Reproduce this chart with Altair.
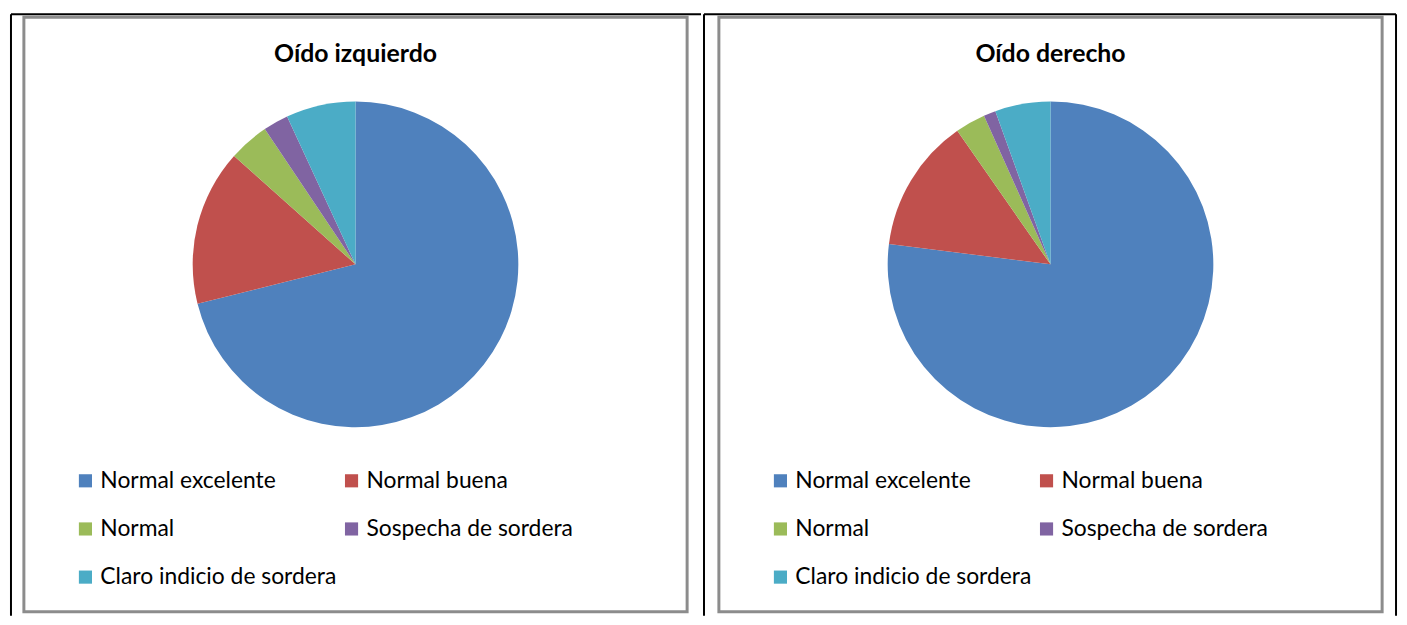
import altair as alt
import pandas as pd

categories = ["Normal excelente", "Normal buena", "Normal",
              "Sospecha de sordera", "Claro indicio de sordera"]
left_values = [71.1, 15.5, 4.0, 2.5, 6.9]
right_values = [77.0, 13.3, 3.0, 1.2, 5.5]
titles = ["Oído izquierdo", "Oído derecho"]
colors = ["#4F81BD", "#C0504D", "#9BBB59", "#8064A2", "#4BACC6"]

FONT = "Lato"
W, H = 668, 599


def panel(title, values, line_xs, top_x, top_x2):
    df = pd.DataFrame({
        "cat": categories,
        "val": values,
        "idx": list(range(len(categories))),
        "col": [i % 2 for i in range(len(categories))],
        "row": [i // 2 for i in range(len(categories))],
    })
    base = alt.Chart(df)
    color = alt.Color("cat:N", scale=alt.Scale(domain=categories, range=colors), legend=None)
    pie = base.mark_arc(outerRadius=164).encode(
        theta=alt.Theta("val:Q", stack=True),
        color=color,
        order=alt.Order("idx:Q"),
        x=alt.value(334),
        y=alt.value(249),
    )
    xenc = alt.X("col:Q", scale=alt.Scale(domain=[0, 1], range=[62, 330]), axis=None)
    yenc = alt.Y("row:Q", scale=alt.Scale(domain=[0, 2], range=[467, 564]), axis=None)
    sw = base.mark_square(size=175, opacity=1).encode(x=xenc, y=yenc, color=color)
    txt = base.mark_text(align="left", baseline="alphabetic", dx=15, dy=7,
                         fontSize=23, font=FONT, color="#000000").encode(
        x=xenc, y=yenc, text="cat:N")
    ttl = alt.Chart(pd.DataFrame({"t": [title]})).mark_text(
        fontWeight="bold", fontSize=25, font=FONT, baseline="alphabetic",
        align="center", color="#000000").encode(
        x=alt.value(334), y=alt.value(45), text="t:N")
    layers = [pie, sw, txt, ttl]
    for lx in line_xs:
        layers.append(alt.Chart(pd.DataFrame({"a": [0]})).mark_rule(
            color="#000000", strokeWidth=2).encode(
            x=alt.value(lx), y=alt.value(-3), y2=alt.value(603)))
    layers.append(alt.Chart(pd.DataFrame({"a": [0]})).mark_rule(
        color="#000000", strokeWidth=2).encode(
        x=alt.value(top_x), x2=alt.value(top_x2), y=alt.value(-3)))
    return alt.layer(*layers).properties(width=W, height=H)


p1 = panel(titles[0], left_values, [-13], -13, 682)
p2 = panel(titles[1], right_values, [-15, 682], -15, 682)

chart = alt.hconcat(p1, p2, spacing=32, bounds="flush").properties(
    padding={"left": 0, "top": 1, "right": 0, "bottom": 0}
).configure(
    background="white",
    view=alt.ViewConfig(stroke="#8c8c8c", strokeWidth=3),
)

chart.save("out.html", embed_options={"renderer": "svg", "actions": False})
